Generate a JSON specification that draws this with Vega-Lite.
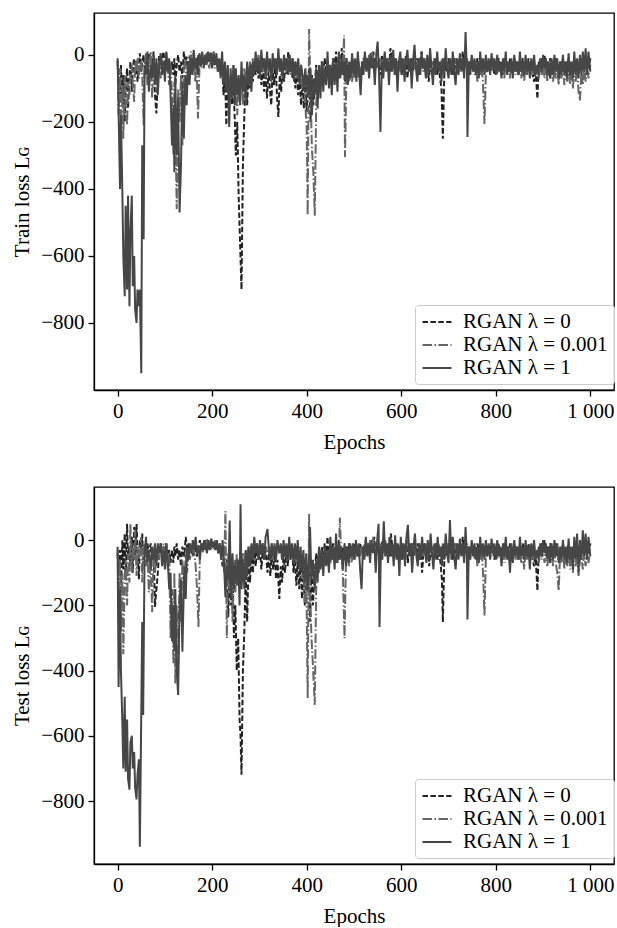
{
"$schema":"https://vega.github.io/schema/vega-lite/v6.json",
"padding":{"left":11,"top":12,"right":3,"bottom":0},
"datasets":{
"train":[
{"x":0,"a":-20,"b":-15,"c":-10},{"x":2,"a":-60,"b":-180,"c":-170},{"x":5,"a":-120,"b":-40,"c":-400},{"x":7,"a":-30,"b":-200,"c":-180},{"x":10,"a":-150,"b":-90,"c":-410},{"x":12,"a":-60,"b":-250,"c":-600},{"x":15,"a":-200,"b":-60,"c":-720},{"x":17,"a":-90,"b":-150,"c":-450},{"x":20,"a":-40,"b":-210,"c":-700},{"x":22,"a":-160,"b":-80,"c":-420},{"x":25,"a":-70,"b":-120,"c":-750},{"x":27,"a":-20,"b":-60,"c":-530},{"x":30,"a":-110,"b":-30,"c":-420},{"x":32,"a":-40,"b":-90,"c":-690},{"x":35,"a":-10,"b":-140,"c":-600},{"x":37,"a":-60,"b":-20,"c":-760},{"x":40,"a":-15,"b":-50,"c":-800},{"x":42,"a":-80,"b":-10,"c":-700},{"x":45,"a":-30,"b":-70,"c":-750},{"x":47,"a":5,"b":-30,"c":-700},{"x":50,"a":-50,"b":-15,"c":-950},{"x":52,"a":-20,"b":-60,"c":-270},{"x":55,"a":0,"b":-210,"c":-550},{"x":57,"a":-40,"b":-30,"c":-40},{"x":60,"a":-10,"b":5,"c":-60},{"x":63,"a":-50,"b":-90,"c":10},{"x":66,"a":5,"b":-40,"c":-110},{"x":70,"a":-30,"b":10,"c":-30},{"x":73,"a":-60,"b":-130,"c":-70},{"x":76,"a":10,"b":-20,"c":0},{"x":79,"a":-120,"b":-60,"c":-90},{"x":82,"a":-175,"b":-20,"c":-10},{"x":85,"a":-60,"b":-60,"c":-120},{"x":88,"a":0,"b":-20,"c":-30},{"x":91,"a":-30,"b":-70,"c":5},{"x":94,"a":-10,"b":-10,"c":-60},{"x":97,"a":10,"b":-40,"c":-20},{"x":100,"a":-40,"b":-20,"c":-80},{"x":103,"a":-10,"b":5,"c":10},{"x":106,"a":-50,"b":-40,"c":-50},{"x":109,"a":-20,"b":-90,"c":-10},{"x":112,"a":-60,"b":-20,"c":-120},{"x":115,"a":-20,"b":-120,"c":-270},{"x":118,"a":-60,"b":-300,"c":-150},{"x":120,"a":-10,"b":-80,"c":-350},{"x":122,"a":-90,"b":-200,"c":-60},{"x":125,"a":-30,"b":-460,"c":-300},{"x":128,"a":0,"b":-100,"c":-130},{"x":131,"a":-50,"b":-200,"c":-470},{"x":134,"a":-20,"b":-60,"c":-330},{"x":137,"a":-70,"b":-270,"c":-80},{"x":140,"a":10,"b":-40,"c":-250},{"x":143,"a":-30,"b":-10,"c":-60},{"x":146,"a":-5,"b":-110,"c":-150},{"x":149,"a":-50,"b":-30,"c":-20},{"x":152,"a":-10,"b":-60,"c":-90},{"x":155,"a":-20,"b":10,"c":-10},{"x":158,"a":-40,"b":-50,"c":-60},{"x":161,"a":5,"b":-20,"c":15},{"x":164,"a":-20,"b":-80,"c":-40},{"x":167,"a":-40,"b":-30,"c":-10},{"x":170,"a":0,"b":-190,"c":-60},{"x":173,"a":-20,"b":-40,"c":5},{"x":176,"a":-30,"b":-10,"c":-30},{"x":179,"a":0,"b":-30,"c":10},{"x":182,"a":-15,"b":-10,"c":-40},{"x":185,"a":-5,"b":-30,"c":0},{"x":188,"a":-25,"b":5,"c":-30},{"x":191,"a":0,"b":-20,"c":10},{"x":194,"a":-20,"b":-40,"c":-20},{"x":197,"a":10,"b":-10,"c":5},{"x":200,"a":-10,"b":-30,"c":-40},{"x":203,"a":-30,"b":0,"c":10},{"x":206,"a":0,"b":-40,"c":-30},{"x":209,"a":-20,"b":-10,"c":5},{"x":212,"a":-40,"b":-50,"c":-50},{"x":215,"a":-10,"b":-20,"c":-10},{"x":218,"a":-60,"b":-60,"c":-70},{"x":221,"a":-30,"b":-20,"c":10},{"x":224,"a":-120,"b":-80,"c":-90},{"x":227,"a":-50,"b":-30,"c":-20},{"x":230,"a":-210,"b":-90,"c":-110},{"x":233,"a":-60,"b":-40,"c":-30},{"x":236,"a":-140,"b":-140,"c":-215},{"x":239,"a":-60,"b":-60,"c":-40},{"x":242,"a":-150,"b":-120,"c":-130},{"x":245,"a":-90,"b":-30,"c":-30},{"x":248,"a":-200,"b":-150,"c":-150},{"x":250,"a":-300,"b":-60,"c":-40},{"x":253,"a":-200,"b":-180,"c":-120},{"x":256,"a":-420,"b":-80,"c":-60},{"x":259,"a":-560,"b":-110,"c":-150},{"x":262,"a":-700,"b":-60,"c":-20},{"x":265,"a":-330,"b":-150,"c":-110},{"x":268,"a":-180,"b":-40,"c":-60},{"x":271,"a":-80,"b":-100,"c":-150},{"x":274,"a":-150,"b":-30,"c":-20},{"x":277,"a":-40,"b":-80,"c":-90},{"x":280,"a":-100,"b":-20,"c":-30},{"x":283,"a":-30,"b":-60,"c":-110},{"x":286,"a":-80,"b":-10,"c":-20},{"x":289,"a":-20,"b":-50,"c":-60},{"x":292,"a":-60,"b":-10,"c":10},{"x":295,"a":-10,"b":-40,"c":-50},{"x":298,"a":-70,"b":0,"c":-10},{"x":301,"a":-20,"b":-30,"c":-70},{"x":304,"a":-90,"b":-10,"c":15},{"x":307,"a":-30,"b":-50,"c":-40},{"x":310,"a":-110,"b":-20,"c":-10},{"x":313,"a":-40,"b":-70,"c":-60},{"x":316,"a":-130,"b":-10,"c":10},{"x":319,"a":-50,"b":-40,"c":-50},{"x":322,"a":-100,"b":-20,"c":-10},{"x":325,"a":-150,"b":-60,"c":-80},{"x":328,"a":-40,"b":-10,"c":5},{"x":331,"a":-90,"b":-40,"c":-40},{"x":334,"a":-20,"b":-20,"c":-10},{"x":337,"a":-120,"b":-50,"c":-60},{"x":340,"a":-185,"b":-10,"c":20},{"x":343,"a":-60,"b":-30,"c":-50},{"x":346,"a":-110,"b":-60,"c":-10},{"x":349,"a":-30,"b":-20,"c":-70},{"x":352,"a":-80,"b":-40,"c":0},{"x":355,"a":-20,"b":-10,"c":-40},{"x":358,"a":-60,"b":-50,"c":-10},{"x":361,"a":10,"b":-20,"c":-60},{"x":364,"a":-50,"b":-30,"c":0},{"x":367,"a":-20,"b":-60,"c":-50},{"x":370,"a":-70,"b":-10,"c":-10},{"x":373,"a":-30,"b":-40,"c":-80},{"x":376,"a":-100,"b":-20,"c":-20},{"x":379,"a":-40,"b":-70,"c":-60},{"x":382,"a":-120,"b":-20,"c":-10},{"x":385,"a":-60,"b":-90,"c":-90},{"x":388,"a":-150,"b":-30,"c":-30},{"x":391,"a":-70,"b":-110,"c":-60},{"x":394,"a":-160,"b":-60,"c":-100},{"x":397,"a":-80,"b":-150,"c":-40},{"x":400,"a":-170,"b":-220,"c":-110},{"x":402,"a":-100,"b":-478,"c":-60},{"x":405,"a":-40,"b":77,"c":-120},{"x":408,"a":-200,"b":-100,"c":-40},{"x":411,"a":-60,"b":-280,"c":-180},{"x":414,"a":-150,"b":-350,"c":-70},{"x":417,"a":-90,"b":-480,"c":-120},{"x":420,"a":-30,"b":-150,"c":-40},{"x":423,"a":-100,"b":-60,"c":-160},{"x":426,"a":-40,"b":-100,"c":-30},{"x":429,"a":-80,"b":-40,"c":-130},{"x":432,"a":-20,"b":-90,"c":-20},{"x":435,"a":-60,"b":-30,"c":-110},{"x":438,"a":-10,"b":-70,"c":-40},{"x":441,"a":-50,"b":-50,"c":-90},{"x":444,"a":-20,"b":-70,"c":10},{"x":447,"a":-80,"b":-40,"c":-100},{"x":450,"a":-30,"b":-80,"c":-30},{"x":453,"a":-60,"b":-50,"c":-120},{"x":456,"a":-10,"b":-70,"c":-10},{"x":459,"a":-50,"b":-40,"c":-90},{"x":462,"a":10,"b":-60,"c":-20},{"x":465,"a":-40,"b":-30,"c":-110},{"x":468,"a":-20,"b":-70,"c":10},{"x":471,"a":-60,"b":-40,"c":-70},{"x":474,"a":20,"b":-60,"c":-10},{"x":477,"a":-30,"b":-20,"c":-60},{"x":479,"a":-20,"b":58,"c":-20},{"x":481,"a":-40,"b":-305,"c":-80},{"x":484,"a":-10,"b":-60,"c":-10},{"x":487,"a":-70,"b":-40,"c":-90},{"x":490,"a":-20,"b":-80,"c":-20},{"x":493,"a":-50,"b":-50,"c":-70},{"x":496,"a":-10,"b":-80,"c":5},{"x":499,"a":-60,"b":-40,"c":-60},{"x":502,"a":-20,"b":-70,"c":-10},{"x":505,"a":-50,"b":-40,"c":-80},{"x":508,"a":-10,"b":-70,"c":10},{"x":511,"a":-40,"b":-40,"c":-50},{"x":514,"a":-70,"b":-60,"c":-120},{"x":517,"a":-20,"b":-30,"c":-20},{"x":520,"a":-40,"b":-10,"c":-60},{"x":523,"a":0,"b":-40,"c":10},{"x":526,"a":-30,"b":-10,"c":-50},{"x":529,"a":-10,"b":-30,"c":-10},{"x":532,"a":-40,"b":0,"c":-70},{"x":535,"a":-10,"b":-30,"c":5},{"x":538,"a":-30,"b":10,"c":-40},{"x":541,"a":10,"b":-20,"c":-10},{"x":544,"a":-50,"b":-40,"c":-90},{"x":547,"a":-20,"b":-10,"c":0},{"x":550,"a":-40,"b":-30,"c":40},{"x":553,"a":-10,"b":-20,"c":-60},{"x":556,"a":-60,"b":-30,"c":-230},{"x":559,"a":0,"b":-10,"c":-20},{"x":562,"a":-30,"b":-40,"c":-70},{"x":565,"a":-10,"b":0,"c":10},{"x":568,"a":-40,"b":-30,"c":-50},{"x":571,"a":-20,"b":-10,"c":-10},{"x":574,"a":-50,"b":-40,"c":-90},{"x":577,"a":20,"b":-20,"c":0},{"x":580,"a":-20,"b":-50,"c":-50},{"x":583,"a":-40,"b":-10,"c":15},{"x":586,"a":-10,"b":-30,"c":-60},{"x":589,"a":-50,"b":-10,"c":-10},{"x":592,"a":-20,"b":-40,"c":-110},{"x":595,"a":-40,"b":-20,"c":-20},{"x":598,"a":-10,"b":-50,"c":10},{"x":601,"a":-60,"b":-10,"c":-60},{"x":604,"a":-20,"b":-40,"c":-10},{"x":607,"a":-40,"b":-20,"c":-80},{"x":610,"a":0,"b":-30,"c":-20},{"x":613,"a":-70,"b":-10,"c":15},{"x":616,"a":-20,"b":-40,"c":-50},{"x":619,"a":-40,"b":-20,"c":-10},{"x":622,"a":-10,"b":-30,"c":-100},{"x":625,"a":-50,"b":-10,"c":-20},{"x":628,"a":-20,"b":-40,"c":30},{"x":631,"a":-40,"b":-20,"c":-40},{"x":634,"a":-10,"b":-50,"c":-80},{"x":637,"a":-60,"b":-10,"c":-10},{"x":640,"a":-20,"b":-30,"c":-60},{"x":643,"a":10,"b":-20,"c":10},{"x":646,"a":-40,"b":-50,"c":-40},{"x":649,"a":-20,"b":-10,"c":-10},{"x":652,"a":-60,"b":-30,"c":-70},{"x":655,"a":-10,"b":-20,"c":0},{"x":658,"a":-80,"b":-40,"c":-60},{"x":661,"a":-30,"b":-10,"c":20},{"x":664,"a":-50,"b":-30,"c":-40},{"x":667,"a":-20,"b":-20,"c":-90},{"x":670,"a":-40,"b":-40,"c":-10},{"x":673,"a":-10,"b":-10,"c":-60},{"x":676,"a":-60,"b":-30,"c":10},{"x":679,"a":-30,"b":-20,"c":-50},{"x":682,"a":-70,"b":-40,"c":-20},{"x":685,"a":-100,"b":-20,"c":-80},{"x":688,"a":-250,"b":-30,"c":-10},{"x":691,"a":-60,"b":-10,"c":-60},{"x":694,"a":-20,"b":-30,"c":20},{"x":697,"a":-50,"b":-20,"c":-40},{"x":700,"a":-10,"b":-40,"c":-70},{"x":703,"a":-40,"b":-10,"c":-10},{"x":706,"a":-20,"b":-30,"c":-60},{"x":709,"a":-60,"b":-20,"c":10},{"x":712,"a":-10,"b":-50,"c":-50},{"x":715,"a":-40,"b":-10,"c":-90},{"x":718,"a":-20,"b":-30,"c":-10},{"x":721,"a":-50,"b":-20,"c":-60},{"x":724,"a":-10,"b":-40,"c":5},{"x":727,"a":-40,"b":-10,"c":-50},{"x":730,"a":10,"b":-30,"c":-10},{"x":733,"a":-40,"b":-20,"c":-70},{"x":736,"a":-20,"b":-40,"c":68},{"x":739,"a":-30,"b":-20,"c":-60},{"x":740,"a":-40,"b":-10,"c":-245},{"x":743,"a":-20,"b":-50,"c":-20},{"x":746,"a":-50,"b":-20,"c":-60},{"x":749,"a":-10,"b":-40,"c":0},{"x":752,"a":-40,"b":-20,"c":-50},{"x":755,"a":-20,"b":-60,"c":-10},{"x":758,"a":-50,"b":-30,"c":-60},{"x":761,"a":-10,"b":-80,"c":-20},{"x":764,"a":-30,"b":-30,"c":-70},{"x":767,"a":-10,"b":-60,"c":10},{"x":770,"a":-40,"b":-30,"c":-50},{"x":773,"a":-20,"b":-90,"c":-10},{"x":776,"a":-40,"b":-206,"c":-60},{"x":779,"a":-10,"b":-50,"c":0},{"x":782,"a":-50,"b":-20,"c":-50},{"x":785,"a":-20,"b":-40,"c":-10},{"x":788,"a":-40,"b":-20,"c":-60},{"x":791,"a":-10,"b":-50,"c":5},{"x":794,"a":-30,"b":-20,"c":-40},{"x":797,"a":-60,"b":-40,"c":-10},{"x":800,"a":-20,"b":-30,"c":-60},{"x":803,"a":-50,"b":-60,"c":0},{"x":806,"a":-10,"b":-20,"c":-50},{"x":809,"a":-40,"b":-40,"c":-20},{"x":812,"a":-20,"b":-60,"c":-70},{"x":815,"a":-60,"b":-30,"c":-10},{"x":818,"a":-10,"b":-70,"c":-50},{"x":821,"a":-40,"b":-20,"c":10},{"x":824,"a":-20,"b":-50,"c":-60},{"x":827,"a":-50,"b":-30,"c":-20},{"x":830,"a":-10,"b":-70,"c":-50},{"x":833,"a":-40,"b":-20,"c":-10},{"x":836,"a":-60,"b":-50,"c":-70},{"x":839,"a":-10,"b":-30,"c":0},{"x":842,"a":-40,"b":-60,"c":-50},{"x":845,"a":-20,"b":-20,"c":-20},{"x":848,"a":-60,"b":-60,"c":-60},{"x":851,"a":-20,"b":-30,"c":10},{"x":854,"a":-50,"b":-70,"c":-50},{"x":857,"a":-10,"b":-30,"c":-20},{"x":860,"a":-40,"b":-80,"c":-60},{"x":863,"a":-20,"b":-30,"c":0},{"x":866,"a":-60,"b":-60,"c":-50},{"x":869,"a":-10,"b":-20,"c":-20},{"x":872,"a":-40,"b":-50,"c":-70},{"x":875,"a":-20,"b":-30,"c":-10},{"x":878,"a":-60,"b":-60,"c":-50},{"x":881,"a":-80,"b":-20,"c":0},{"x":884,"a":-40,"b":-60,"c":-60},{"x":888,"a":-131,"b":-30,"c":-30},{"x":891,"a":-20,"b":-70,"c":-60},{"x":894,"a":-40,"b":-20,"c":-10},{"x":897,"a":-10,"b":-60,"c":-50},{"x":900,"a":-30,"b":-30,"c":0},{"x":903,"a":0,"b":-70,"c":-40},{"x":906,"a":-40,"b":-30,"c":-10},{"x":909,"a":-20,"b":-80,"c":-60},{"x":912,"a":-50,"b":-40,"c":-20},{"x":915,"a":-10,"b":-70,"c":-70},{"x":918,"a":-40,"b":-30,"c":-10},{"x":921,"a":-20,"b":-80,"c":-60},{"x":924,"a":-50,"b":-40,"c":0},{"x":927,"a":-10,"b":-70,"c":-50},{"x":930,"a":-30,"b":-30,"c":-10},{"x":933,"a":-60,"b":-90,"c":-70},{"x":936,"a":-20,"b":-40,"c":-20},{"x":939,"a":-40,"b":-70,"c":-60},{"x":942,"a":-10,"b":-30,"c":0},{"x":945,"a":-50,"b":-90,"c":-60},{"x":948,"a":-20,"b":-40,"c":-20},{"x":951,"a":-40,"b":-80,"c":-70},{"x":954,"a":-10,"b":-30,"c":5},{"x":957,"a":-50,"b":-90,"c":-60},{"x":960,"a":-20,"b":-40,"c":-20},{"x":963,"a":-40,"b":-100,"c":-70},{"x":966,"a":-10,"b":-40,"c":10},{"x":969,"a":-50,"b":-80,"c":-60},{"x":972,"a":-20,"b":-40,"c":-10},{"x":975,"a":-40,"b":-110,"c":-70},{"x":978,"a":-10,"b":-136,"c":0},{"x":981,"a":-50,"b":-50,"c":-60},{"x":984,"a":-20,"b":-90,"c":10},{"x":987,"a":0,"b":-40,"c":-50},{"x":990,"a":-40,"b":-80,"c":20},{"x":993,"a":-20,"b":-30,"c":-60},{"x":996,"a":-40,"b":-70,"c":10},{"x":1000,"a":-10,"b":-30,"c":-50}
],
"test":[
{"x":0,"a":-40,"b":-30,"c":-20},{"x":2,"a":-100,"b":-240,"c":-450},{"x":5,"a":-30,"b":-60,"c":-150},{"x":7,"a":-150,"b":-280,"c":-400},{"x":10,"a":0,"b":-100,"c":-560},{"x":12,"a":-90,"b":-350,"c":-700},{"x":15,"a":20,"b":-120,"c":-480},{"x":17,"a":-120,"b":-60,"c":-710},{"x":20,"a":50,"b":-200,"c":-550},{"x":22,"a":-60,"b":-40,"c":-730},{"x":25,"a":-20,"b":-130,"c":-765},{"x":27,"a":-80,"b":50,"c":-620},{"x":30,"a":10,"b":-100,"c":-600},{"x":32,"a":-100,"b":-20,"c":-700},{"x":35,"a":40,"b":-60,"c":-650},{"x":37,"a":-60,"b":30,"c":-760},{"x":40,"a":50,"b":-110,"c":-795},{"x":42,"a":-30,"b":-20,"c":-720},{"x":45,"a":-120,"b":-60,"c":-672},{"x":47,"a":0,"b":-30,"c":-940},{"x":50,"a":-40,"b":10,"c":-530},{"x":52,"a":20,"b":-130,"c":-251},{"x":54,"a":-60,"b":-40,"c":-536},{"x":57,"a":-20,"b":-10,"c":-40},{"x":60,"a":-50,"b":-80,"c":10},{"x":63,"a":-10,"b":-30,"c":-70},{"x":66,"a":-40,"b":-160,"c":-30},{"x":70,"a":-10,"b":-60,"c":-90},{"x":73,"a":-60,"b":-220,"c":-20},{"x":76,"a":-30,"b":-40,"c":-60},{"x":79,"a":-205,"b":-100,"c":-10},{"x":82,"a":-150,"b":-40,"c":-80},{"x":85,"a":-100,"b":-20,"c":-10},{"x":88,"a":-30,"b":-60,"c":-40},{"x":91,"a":-10,"b":-20,"c":-10},{"x":94,"a":-40,"b":-50,"c":-80},{"x":97,"a":-20,"b":-10,"c":-30},{"x":100,"a":-50,"b":-60,"c":-90},{"x":103,"a":-10,"b":-30,"c":-10},{"x":106,"a":-60,"b":-90,"c":-60},{"x":109,"a":-30,"b":-40,"c":-150},{"x":112,"a":-70,"b":-300,"c":-100},{"x":115,"a":-30,"b":-150,"c":-310},{"x":118,"a":-70,"b":-380,"c":-200},{"x":120,"a":-20,"b":-100,"c":-340},{"x":122,"a":-50,"b":-440,"c":-150},{"x":125,"a":-10,"b":-200,"c":-400},{"x":128,"a":-60,"b":-380,"c":-475},{"x":131,"a":-30,"b":-100,"c":-200},{"x":134,"a":-80,"b":-250,"c":-120},{"x":137,"a":-20,"b":-60,"c":-342},{"x":141,"a":-50,"b":-150,"c":-80},{"x":144,"a":10,"b":-40,"c":-180},{"x":147,"a":-30,"b":-100,"c":-20},{"x":150,"a":-10,"b":-30,"c":-60},{"x":153,"a":-40,"b":-60,"c":-10},{"x":156,"a":-20,"b":-20,"c":-40},{"x":159,"a":-50,"b":-50,"c":0},{"x":162,"a":-10,"b":-30,"c":-30},{"x":165,"a":-30,"b":-80,"c":10},{"x":168,"a":-50,"b":-150,"c":-40},{"x":171,"a":-20,"b":-266,"c":-20},{"x":174,"a":0,"b":-40,"c":-60},{"x":177,"a":-30,"b":-10,"c":-10},{"x":180,"a":-10,"b":-40,"c":-30},{"x":183,"a":-30,"b":-10,"c":0},{"x":186,"a":0,"b":-30,"c":-20},{"x":189,"a":-20,"b":5,"c":-40},{"x":192,"a":-10,"b":-20,"c":0},{"x":195,"a":-30,"b":-10,"c":-30},{"x":198,"a":0,"b":-30,"c":5},{"x":201,"a":-20,"b":-10,"c":-20},{"x":204,"a":-10,"b":-30,"c":-5},{"x":207,"a":-30,"b":0,"c":-30},{"x":210,"a":-10,"b":-20,"c":0},{"x":213,"a":-40,"b":-40,"c":-40},{"x":216,"a":-20,"b":-10,"c":-10},{"x":219,"a":-50,"b":-50,"c":-60},{"x":222,"a":-80,"b":-20,"c":0},{"x":225,"a":-60,"b":-100,"c":-70},{"x":228,"a":-120,"b":89,"c":-175},{"x":231,"a":-60,"b":-300,"c":-80},{"x":234,"a":-236,"b":-40,"c":-120},{"x":237,"a":-100,"b":-150,"c":60},{"x":240,"a":-200,"b":-60,"c":-180},{"x":243,"a":-80,"b":-250,"c":-40},{"x":246,"a":-300,"b":-80,"c":-150},{"x":249,"a":-200,"b":-160,"c":-60},{"x":252,"a":-400,"b":-40,"c":-140},{"x":255,"a":-300,"b":-100,"c":-60},{"x":258,"a":-550,"b":-60,"c":-200},{"x":260,"a":-600,"b":-40,"c":110},{"x":262,"a":-719,"b":-120,"c":-150},{"x":265,"a":-400,"b":-40,"c":-60},{"x":268,"a":-280,"b":-90,"c":-150},{"x":271,"a":-100,"b":-30,"c":-30},{"x":274,"a":-250,"b":-70,"c":-110},{"x":277,"a":-60,"b":-20,"c":-20},{"x":280,"a":-130,"b":-60,"c":-80},{"x":283,"a":-40,"b":-20,"c":-10},{"x":286,"a":-100,"b":-60,"c":-60},{"x":289,"a":-20,"b":-10,"c":10},{"x":292,"a":-80,"b":-40,"c":-40},{"x":295,"a":-30,"b":-10,"c":-10},{"x":298,"a":-60,"b":-50,"c":-60},{"x":301,"a":-20,"b":-20,"c":0},{"x":304,"a":-90,"b":-40,"c":-40},{"x":307,"a":-30,"b":-10,"c":-10},{"x":310,"a":-60,"b":-50,"c":-60},{"x":313,"a":-20,"b":-20,"c":10},{"x":317,"a":-100,"b":-40,"c":34},{"x":320,"a":-40,"b":-20,"c":-30},{"x":323,"a":-110,"b":-50,"c":-60},{"x":326,"a":-40,"b":-10,"c":-10},{"x":329,"a":-90,"b":-60,"c":-50},{"x":332,"a":-30,"b":-20,"c":-10},{"x":335,"a":-120,"b":-50,"c":-60},{"x":338,"a":-60,"b":-20,"c":0},{"x":342,"a":-180,"b":-40,"c":-40},{"x":345,"a":-80,"b":-20,"c":-10},{"x":348,"a":-130,"b":-60,"c":-60},{"x":351,"a":-40,"b":-20,"c":0},{"x":354,"a":-100,"b":-50,"c":-50},{"x":357,"a":-30,"b":-20,"c":-10},{"x":360,"a":-80,"b":-60,"c":-60},{"x":363,"a":-10,"b":-20,"c":10},{"x":366,"a":-60,"b":-50,"c":-50},{"x":369,"a":-20,"b":-20,"c":-10},{"x":372,"a":-100,"b":-60,"c":-70},{"x":375,"a":-40,"b":-20,"c":-10},{"x":378,"a":-140,"b":-70,"c":-60},{"x":381,"a":-60,"b":-30,"c":0},{"x":384,"a":-150,"b":-80,"c":-90},{"x":387,"a":-60,"b":-40,"c":-20},{"x":390,"a":-180,"b":-120,"c":-100},{"x":393,"a":-80,"b":-50,"c":-30},{"x":396,"a":-200,"b":-200,"c":-130},{"x":399,"a":-100,"b":-80,"c":-40},{"x":402,"a":-160,"b":-484,"c":-150},{"x":405,"a":-50,"b":80,"c":-60},{"x":407,"a":-250,"b":-150,"c":40},{"x":410,"a":-80,"b":-300,"c":-120},{"x":413,"a":-200,"b":-380,"c":-60},{"x":417,"a":-100,"b":-505,"c":-150},{"x":420,"a":-40,"b":-150,"c":-60},{"x":423,"a":-100,"b":-60,"c":-130},{"x":426,"a":-30,"b":-100,"c":-20},{"x":429,"a":-80,"b":-40,"c":-90},{"x":432,"a":-20,"b":-80,"c":-30},{"x":435,"a":-60,"b":-40,"c":-110},{"x":438,"a":-10,"b":-70,"c":-20},{"x":441,"a":-50,"b":-40,"c":-80},{"x":444,"a":10,"b":-60,"c":-30},{"x":447,"a":-60,"b":-30,"c":-100},{"x":450,"a":-20,"b":-70,"c":10},{"x":453,"a":-40,"b":-40,"c":-60},{"x":456,"a":-10,"b":-60,"c":-20},{"x":459,"a":-60,"b":-30,"c":-90},{"x":462,"a":-20,"b":-70,"c":20},{"x":465,"a":-50,"b":-40,"c":-70},{"x":468,"a":0,"b":-60,"c":-10},{"x":470,"a":-30,"b":69,"c":-60},{"x":473,"a":-50,"b":-40,"c":-20},{"x":476,"a":-20,"b":-80,"c":-90},{"x":480,"a":-60,"b":-301,"c":-10},{"x":483,"a":-20,"b":-60,"c":-80},{"x":486,"a":-50,"b":-30,"c":-20},{"x":489,"a":-10,"b":-80,"c":-70},{"x":492,"a":-40,"b":-40,"c":-10},{"x":495,"a":-20,"b":-70,"c":-50},{"x":498,"a":-60,"b":-30,"c":-10},{"x":501,"a":-10,"b":-60,"c":-60},{"x":504,"a":-40,"b":-20,"c":0},{"x":507,"a":-20,"b":-50,"c":-50},{"x":510,"a":-50,"b":-20,"c":-10},{"x":513,"a":-10,"b":-50,"c":-90},{"x":516,"a":-40,"b":-20,"c":-150},{"x":519,"a":-20,"b":-40,"c":-20},{"x":522,"a":-50,"b":-10,"c":-60},{"x":525,"a":0,"b":-30,"c":10},{"x":528,"a":-30,"b":-10,"c":-50},{"x":531,"a":-10,"b":-30,"c":-10},{"x":534,"a":-40,"b":0,"c":-70},{"x":537,"a":-10,"b":-30,"c":0},{"x":540,"a":-30,"b":10,"c":-40},{"x":543,"a":10,"b":-20,"c":-10},{"x":546,"a":-50,"b":-40,"c":-100},{"x":549,"a":-20,"b":-10,"c":0},{"x":552,"a":-40,"b":-30,"c":50},{"x":554,"a":-10,"b":-20,"c":-266},{"x":557,"a":-60,"b":-30,"c":-20},{"x":560,"a":0,"b":-10,"c":-60},{"x":563,"a":-30,"b":-40,"c":58},{"x":566,"a":-10,"b":0,"c":-50},{"x":569,"a":-40,"b":-30,"c":-10},{"x":572,"a":-20,"b":-10,"c":-70},{"x":575,"a":-50,"b":-40,"c":10},{"x":578,"a":20,"b":-20,"c":-50},{"x":581,"a":-20,"b":-50,"c":-10},{"x":584,"a":-40,"b":-10,"c":-80},{"x":587,"a":-10,"b":-30,"c":15},{"x":590,"a":-50,"b":-10,"c":-60},{"x":593,"a":-20,"b":-40,"c":-10},{"x":596,"a":-40,"b":-20,"c":-110},{"x":599,"a":-10,"b":-50,"c":10},{"x":602,"a":-60,"b":-10,"c":-60},{"x":605,"a":-20,"b":-40,"c":-10},{"x":608,"a":-40,"b":-20,"c":-80},{"x":611,"a":0,"b":-30,"c":10},{"x":614,"a":-70,"b":-10,"c":47},{"x":617,"a":-20,"b":-40,"c":-50},{"x":620,"a":-40,"b":-20,"c":-10},{"x":623,"a":-10,"b":-30,"c":-100},{"x":626,"a":-50,"b":-10,"c":-20},{"x":629,"a":-20,"b":-40,"c":20},{"x":632,"a":-40,"b":-20,"c":-50},{"x":635,"a":-10,"b":-50,"c":-80},{"x":638,"a":-60,"b":-10,"c":-10},{"x":641,"a":-20,"b":-30,"c":-60},{"x":644,"a":-100,"b":-20,"c":10},{"x":647,"a":-40,"b":-50,"c":-40},{"x":650,"a":-20,"b":-10,"c":-10},{"x":653,"a":-60,"b":-30,"c":-70},{"x":656,"a":-10,"b":-20,"c":0},{"x":659,"a":-80,"b":-40,"c":-60},{"x":662,"a":-30,"b":-10,"c":20},{"x":665,"a":-50,"b":-30,"c":-40},{"x":668,"a":-20,"b":-20,"c":-90},{"x":671,"a":-40,"b":-40,"c":-10},{"x":674,"a":-10,"b":-10,"c":-60},{"x":677,"a":-60,"b":-30,"c":10},{"x":680,"a":-30,"b":-20,"c":-50},{"x":683,"a":-70,"b":-40,"c":-20},{"x":686,"a":-120,"b":-20,"c":-80},{"x":688,"a":-251,"b":-30,"c":-10},{"x":691,"a":-60,"b":-10,"c":-60},{"x":694,"a":-20,"b":-30,"c":20},{"x":697,"a":-50,"b":-20,"c":-40},{"x":700,"a":-10,"b":-40,"c":-70},{"x":703,"a":-40,"b":-10,"c":62},{"x":706,"a":-20,"b":-30,"c":-60},{"x":709,"a":-60,"b":-20,"c":10},{"x":712,"a":-10,"b":-50,"c":-50},{"x":715,"a":-40,"b":-10,"c":-90},{"x":718,"a":-20,"b":-30,"c":-10},{"x":721,"a":-50,"b":-20,"c":-60},{"x":724,"a":-10,"b":-40,"c":5},{"x":727,"a":-40,"b":-10,"c":-50},{"x":730,"a":10,"b":-30,"c":-10},{"x":733,"a":-40,"b":-20,"c":-70},{"x":736,"a":-20,"b":-40,"c":40},{"x":739,"a":-30,"b":-20,"c":-60},{"x":740,"a":-40,"b":-10,"c":-243},{"x":743,"a":-20,"b":-50,"c":-20},{"x":746,"a":-50,"b":-20,"c":-60},{"x":749,"a":-10,"b":-40,"c":0},{"x":752,"a":-40,"b":-20,"c":-50},{"x":755,"a":-20,"b":-60,"c":-10},{"x":758,"a":-50,"b":-30,"c":-60},{"x":761,"a":-10,"b":-80,"c":-20},{"x":764,"a":-30,"b":-30,"c":-70},{"x":767,"a":-10,"b":-60,"c":10},{"x":770,"a":-40,"b":-30,"c":-50},{"x":773,"a":-20,"b":-100,"c":-10},{"x":776,"a":-40,"b":-231,"c":-60},{"x":779,"a":-10,"b":-50,"c":0},{"x":782,"a":-50,"b":-20,"c":-50},{"x":785,"a":-20,"b":-40,"c":-10},{"x":788,"a":-40,"b":-20,"c":-60},{"x":791,"a":-10,"b":-50,"c":5},{"x":794,"a":-30,"b":-20,"c":-40},{"x":797,"a":-60,"b":-40,"c":-10},{"x":800,"a":-20,"b":-30,"c":-60},{"x":803,"a":-50,"b":-60,"c":0},{"x":806,"a":-10,"b":-20,"c":-50},{"x":809,"a":-40,"b":-40,"c":-20},{"x":812,"a":-20,"b":-60,"c":-80},{"x":815,"a":-60,"b":-30,"c":-10},{"x":818,"a":-10,"b":-70,"c":-50},{"x":821,"a":-40,"b":-20,"c":10},{"x":824,"a":-20,"b":-50,"c":-60},{"x":827,"a":-50,"b":-30,"c":-20},{"x":830,"a":-10,"b":-70,"c":-100},{"x":833,"a":-40,"b":-20,"c":-10},{"x":836,"a":-60,"b":-50,"c":-70},{"x":839,"a":-10,"b":-30,"c":0},{"x":842,"a":-40,"b":-60,"c":-50},{"x":845,"a":-20,"b":-20,"c":-20},{"x":848,"a":-60,"b":-60,"c":-60},{"x":851,"a":-20,"b":-30,"c":10},{"x":854,"a":-50,"b":-70,"c":-50},{"x":857,"a":-10,"b":-30,"c":-20},{"x":860,"a":-40,"b":-90,"c":-60},{"x":863,"a":-20,"b":-30,"c":0},{"x":866,"a":-60,"b":-60,"c":-50},{"x":869,"a":-10,"b":-20,"c":-20},{"x":872,"a":-40,"b":-50,"c":-90},{"x":875,"a":-20,"b":-30,"c":-10},{"x":878,"a":-60,"b":-60,"c":-50},{"x":881,"a":-80,"b":-20,"c":0},{"x":884,"a":-40,"b":-60,"c":-60},{"x":888,"a":-155,"b":-30,"c":-30},{"x":891,"a":-20,"b":-70,"c":-60},{"x":894,"a":-40,"b":-20,"c":-10},{"x":897,"a":-10,"b":-60,"c":-50},{"x":900,"a":-30,"b":-30,"c":0},{"x":903,"a":0,"b":-70,"c":-40},{"x":906,"a":-40,"b":-30,"c":-10},{"x":909,"a":-20,"b":-80,"c":-60},{"x":912,"a":-50,"b":-40,"c":-20},{"x":915,"a":-10,"b":-70,"c":-70},{"x":918,"a":-40,"b":-30,"c":-10},{"x":921,"a":-20,"b":-80,"c":-60},{"x":924,"a":-50,"b":-40,"c":0},{"x":927,"a":-10,"b":-70,"c":-50},{"x":930,"a":-30,"b":-100,"c":-10},{"x":933,"a":-60,"b":-155,"c":-70},{"x":936,"a":-20,"b":-40,"c":-20},{"x":939,"a":-40,"b":-70,"c":-60},{"x":942,"a":-10,"b":-30,"c":0},{"x":945,"a":-50,"b":-90,"c":-60},{"x":948,"a":-20,"b":-40,"c":-20},{"x":951,"a":-40,"b":-80,"c":-70},{"x":954,"a":-10,"b":-30,"c":5},{"x":957,"a":-50,"b":-90,"c":-60},{"x":960,"a":-20,"b":-40,"c":-20},{"x":963,"a":-40,"b":-100,"c":-90},{"x":966,"a":-10,"b":-40,"c":10},{"x":969,"a":-50,"b":-80,"c":-60},{"x":972,"a":-20,"b":-40,"c":20},{"x":975,"a":-40,"b":-110,"c":-100},{"x":978,"a":-10,"b":-60,"c":0},{"x":981,"a":-50,"b":-50,"c":-60},{"x":984,"a":-20,"b":-90,"c":30},{"x":987,"a":0,"b":-40,"c":-50},{"x":990,"a":-40,"b":-80,"c":20},{"x":993,"a":-20,"b":-30,"c":-60},{"x":996,"a":-40,"b":-70,"c":10},{"x":1000,"a":-10,"b":-30,"c":-50}
]
},
"vconcat":[
{"width":520,"height":377,"data":{"name":"train"},
"encoding":{"x":{"field":"x","type":"quantitative","scale":{"domain":[-50,1050],"nice":false,"zero":false},"axis":{"title":"Epochs","values":[0,200,400,600,800,1000],"labelExpr":"datum.value == 1000 ? '1 000' : datum.label"}}},
"layer":[
{"mark":{"type":"line","strokeWidth":2,"clip":true},"encoding":{"y":{"field":"a","type":"quantitative","scale":{"domain":[-1000,125],"nice":false,"zero":false},"title":"Train loss Lɢ","axis":{"values":[0,-200,-400,-600,-800]}},"color":{"datum":"RGAN λ = 0","type":"nominal","scale":{"domain":["RGAN λ = 0","RGAN λ = 0.001","RGAN λ = 1"],"range":["#222222","#666666","#464646"]},"legend":{"orient":"none","legendX":321,"legendY":292,"title":null}},"strokeDash":{"datum":"RGAN λ = 0","type":"nominal","scale":{"domain":["RGAN λ = 0","RGAN λ = 0.001","RGAN λ = 1"],"range":[[5.5,2.4],[9.6,2.4,1.5,2.4],[1,0]]},"legend":{"orient":"none","legendX":321,"legendY":292,"title":null}}}},
{"mark":{"type":"line","strokeWidth":2,"clip":true},"encoding":{"y":{"field":"b","type":"quantitative","title":"Train loss Lɢ"},"color":{"datum":"RGAN λ = 0.001","type":"nominal"},"strokeDash":{"datum":"RGAN λ = 0.001","type":"nominal"}}},
{"mark":{"type":"line","strokeWidth":2,"clip":true},"encoding":{"y":{"field":"c","type":"quantitative","title":"Train loss Lɢ"},"color":{"datum":"RGAN λ = 1","type":"nominal"},"strokeDash":{"datum":"RGAN λ = 1","type":"nominal"}}}
]},
{"width":520,"height":377,"data":{"name":"test"},
"encoding":{"x":{"field":"x","type":"quantitative","scale":{"domain":[-50,1050],"nice":false,"zero":false},"axis":{"title":"Epochs","values":[0,200,400,600,800,1000],"labelExpr":"datum.value == 1000 ? '1 000' : datum.label"}}},
"layer":[
{"mark":{"type":"line","strokeWidth":2,"clip":true},"encoding":{"y":{"field":"a","type":"quantitative","scale":{"domain":[-993,163],"nice":false,"zero":false},"title":"Test loss Lɢ","axis":{"values":[0,-200,-400,-600,-800]}},"color":{"datum":"RGAN λ = 0","type":"nominal","scale":{"domain":["RGAN λ = 0","RGAN λ = 0.001","RGAN λ = 1"],"range":["#222222","#666666","#464646"]},"legend":{"orient":"none","legendX":321,"legendY":292,"title":null}},"strokeDash":{"datum":"RGAN λ = 0","type":"nominal","scale":{"domain":["RGAN λ = 0","RGAN λ = 0.001","RGAN λ = 1"],"range":[[5.5,2.4],[9.6,2.4,1.5,2.4],[1,0]]},"legend":{"orient":"none","legendX":321,"legendY":292,"title":null}}}},
{"mark":{"type":"line","strokeWidth":2,"clip":true},"encoding":{"y":{"field":"b","type":"quantitative","title":"Test loss Lɢ"},"color":{"datum":"RGAN λ = 0.001","type":"nominal"},"strokeDash":{"datum":"RGAN λ = 0.001","type":"nominal"}}},
{"mark":{"type":"line","strokeWidth":2,"clip":true},"encoding":{"y":{"field":"c","type":"quantitative","title":"Test loss Lɢ"},"color":{"datum":"RGAN λ = 1","type":"nominal"},"strokeDash":{"datum":"RGAN λ = 1","type":"nominal"}}}
]}
],
"spacing":97,
"bounds":"flush",
"resolve":{"scale":{"y":"independent"},"legend":{"color":"independent","strokeDash":"independent"}},
"config":{
"font":"Liberation Serif",
"view":{"stroke":"#000","strokeWidth":1.3},
"axis":{"grid":false,"domainColor":"#000","domainWidth":1.3,"tickColor":"#000","tickWidth":1.3,"tickSize":6,"labelFont":"Liberation Serif","labelFontSize":21,"labelColor":"#000","titleFont":"Liberation Serif","titleFontSize":21,"titleFontWeight":"normal","titleColor":"#000","labelPadding":4},
"axisX":{"titlePadding":10},
"axisY":{"titlePadding":8},
"legend":{"labelFont":"Liberation Serif","labelFontSize":21,"labelColor":"#000","symbolType":"M-1.45,0H1.45","symbolSize":400,"symbolStrokeWidth":2,"symbolOffset":5,"strokeColor":"#cccccc","fillColor":"rgba(255,255,255,0.8)","padding":6,"cornerRadius":3,"rowPadding":2,"labelOffset":15,"labelLimit":400}
}
}
